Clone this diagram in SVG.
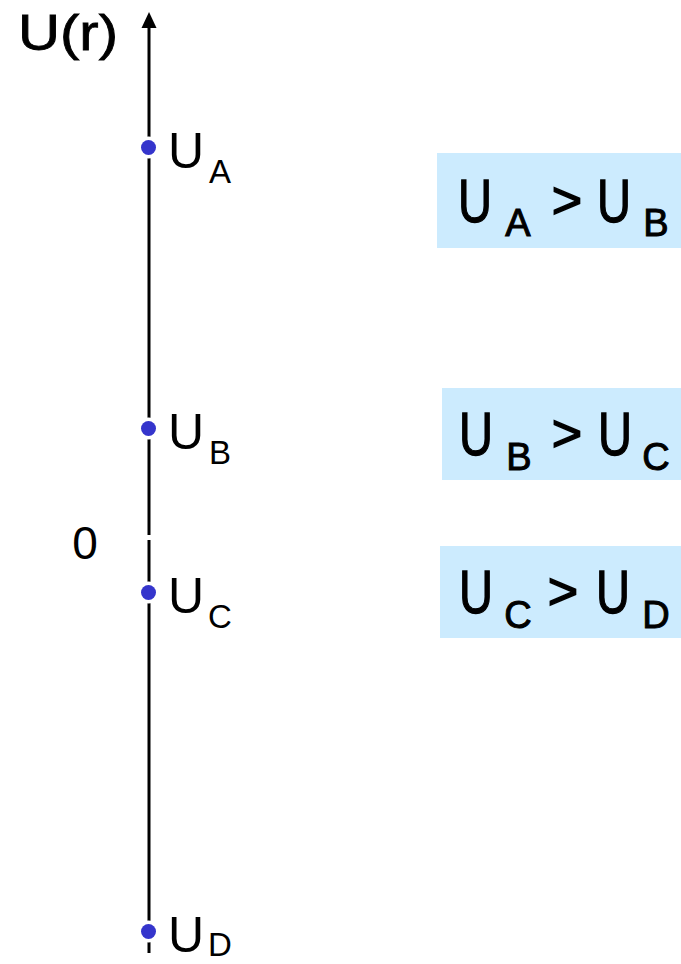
<svg xmlns="http://www.w3.org/2000/svg" width="681" height="964" viewBox="0 0 681 964">
<style>
  text { font-family: "Liberation Sans", Arial, sans-serif; fill: #000; }
  .axis { stroke: #000; stroke-width: 3; fill: none; }
  .head { fill: #000; }
  .halo { fill: #fff; }
  .dot { fill: #3535CC; }
  .lbl { font-size: 50px; text-anchor: middle; }
  .lsub { font-size: 33px; text-anchor: middle; }
  .box { fill: #CCEBFE; }
  .big { font-size: 62px; text-anchor: middle; stroke: #000; stroke-width: 1.3; }
  .bsub { font-size: 38px; text-anchor: middle; stroke: #000; stroke-width: 1; }
  .gt { font-size: 52px; text-anchor: middle; stroke: #000; stroke-width: 1.5; }
  .title { font-size: 50px; stroke: #000; stroke-width: 0.8; }
</style>
<rect width="681" height="964" fill="#fff"/>

<g id="axis-title">
  <text class="title" x="18" y="50" textLength="100" lengthAdjust="spacingAndGlyphs">U(r)</text>
</g>

<g id="connectors">
  <line class="axis" x1="149" y1="953" x2="149" y2="26"/>
  <path class="head" d="M149,12 L156.5,28 L141.5,28 Z"/>
  <rect x="140" y="535" width="20" height="5" fill="#fff"/>
</g>

<g id="zero-label">
  <text x="85" y="559" font-size="46" text-anchor="middle">0</text>
</g>

<g id="point-A">
  <circle class="halo" cx="148.5" cy="147.5" r="11"/>
  <circle class="dot" cx="148.5" cy="147.5" r="7.5"/>
  <text class="lbl" x="186" y="168">U</text>
  <text class="lsub" x="220" y="183">A</text>
</g>
<g id="point-B">
  <circle class="halo" cx="148.5" cy="428.5" r="11"/>
  <circle class="dot" cx="148.5" cy="428.5" r="7.5"/>
  <text class="lbl" x="186" y="449">U</text>
  <text class="lsub" x="220" y="464">B</text>
</g>
<g id="point-C">
  <circle class="halo" cx="148.5" cy="592.5" r="11"/>
  <circle class="dot" cx="148.5" cy="592.5" r="7.5"/>
  <text class="lbl" x="186" y="613">U</text>
  <text class="lsub" x="220" y="628">C</text>
</g>
<g id="point-D">
  <circle class="halo" cx="148.5" cy="931.5" r="11"/>
  <circle class="dot" cx="148.5" cy="931.5" r="7.5"/>
  <text class="lbl" x="186" y="952">U</text>
  <text class="lsub" x="220" y="956" font-size="31">D</text>
</g>

<g id="box-AB">
  <rect class="box" x="437" y="153" width="244" height="95"/>
  <text class="big" x="475" y="222" textLength="34" lengthAdjust="spacingAndGlyphs">U</text>
  <text class="bsub" x="518" y="236">A</text>
  <text class="gt" x="567" y="218">&gt;</text>
  <text class="big" x="614" y="222" textLength="34" lengthAdjust="spacingAndGlyphs">U</text>
  <text class="bsub" x="656" y="236">B</text>
</g>
<g id="box-BC">
  <rect class="box" x="442" y="388" width="239" height="92"/>
  <text class="big" x="476" y="455" textLength="34" lengthAdjust="spacingAndGlyphs">U</text>
  <text class="bsub" x="519" y="470">B</text>
  <text class="gt" x="567" y="451">&gt;</text>
  <text class="big" x="615" y="455" textLength="34" lengthAdjust="spacingAndGlyphs">U</text>
  <text class="bsub" x="656" y="470">C</text>
</g>
<g id="box-CD">
  <rect class="box" x="440" y="546" width="241" height="92"/>
  <text class="big" x="476" y="613" textLength="34" lengthAdjust="spacingAndGlyphs">U</text>
  <text class="bsub" x="518" y="628">C</text>
  <text class="gt" x="563" y="609">&gt;</text>
  <text class="big" x="613" y="613" textLength="34" lengthAdjust="spacingAndGlyphs">U</text>
  <text class="bsub" x="656" y="628">D</text>
</g>
</svg>
